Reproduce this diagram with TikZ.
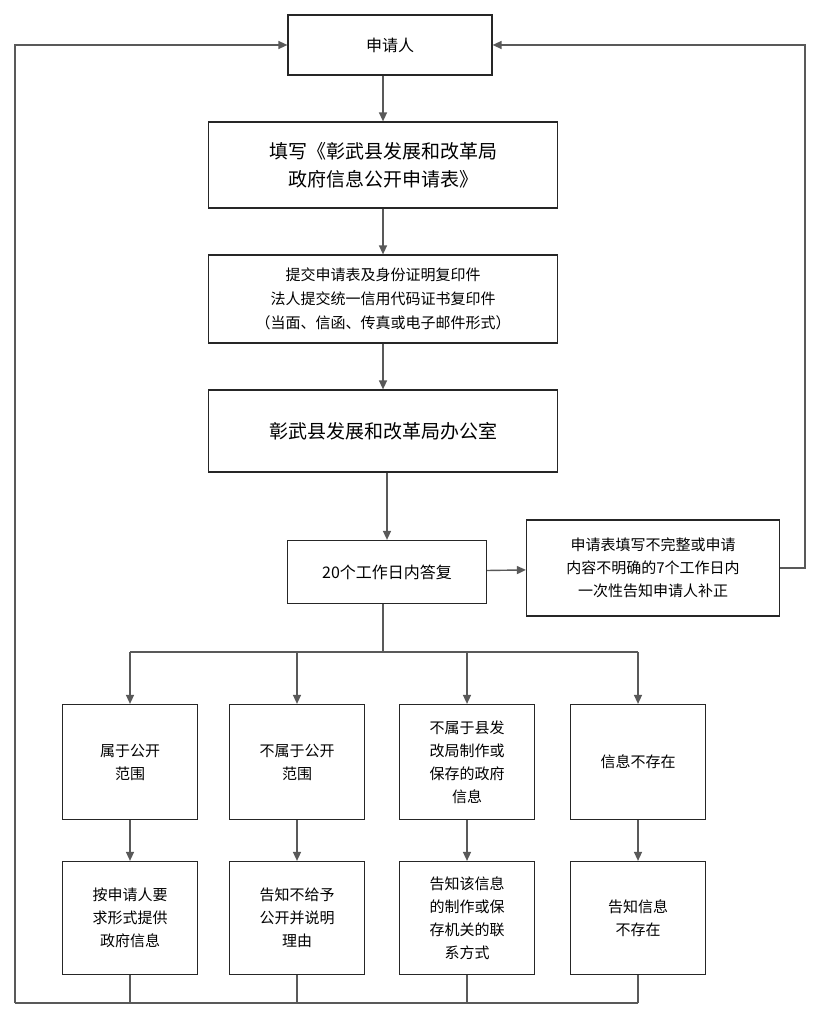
\documentclass[tikz,border=0pt]{standalone}
\usepackage{fontspec}
\setmainfont{Noto Sans CJK SC}
\usetikzlibrary{arrows.meta}
\begin{document}
\begin{tikzpicture}[x=1pt,y=-1pt,
  box/.style={draw=black!85,line width=1.2pt,align=center,font=\fontsize{15}{20}\selectfont,inner sep=2pt},
  conn/.style={draw=black!65,line width=1.4pt},
  arr/.style={conn,-{Triangle[length=9pt,width=8pt]}}]
\useasboundingbox (0,0) rectangle (822,1024);
\node[box,minimum width=204pt,minimum height=60pt,font=\fontsize{16}{20}\selectfont] (a) at (390,45) {申请人};
\node[box,minimum width=349pt,minimum height=86pt,font=\fontsize{19}{28}\selectfont] (b) at (383,165) {填写《彰武县发展和改革局\\政府信息公开申请表》};
\node[box,minimum width=349pt,minimum height=88pt,font=\fontsize{15}{24}\selectfont] (c) at (383,299) {提交申请表及身份证明复印件\\法人提交统一信用代码证书复印件\\（当面、信函、传真或电子邮件形式）};
\node[box,minimum width=349pt,minimum height=82pt,font=\fontsize{19}{24}\selectfont] (d) at (383,431) {彰武县发展和改革局办公室};
\node[box,minimum width=199pt,minimum height=63pt,font=\fontsize{16}{20}\selectfont] (e) at (387,572) {20个工作日内答复};
\node[box,minimum width=253pt,minimum height=96pt,font=\fontsize{15}{23}\selectfont] (f) at (653,568) {申请表填写不完整或申请\\内容不明确的7个工作日内\\一次性告知申请人补正};
\foreach \n/\x in {1/130,2/297,3/467,4/638}{
  \node[box,minimum width=135pt,minimum height=115pt,text width=120pt] (u\n) at (\x,762) {};
  \node[box,minimum width=135pt,minimum height=113pt,text width=120pt] (l\n) at (\x,918) {};
  \draw[arr] (u\n) -- (l\n);
}
\node[align=center,font=\fontsize{15}{23}\selectfont] at (u1) {属于公开\\范围};
\node[align=center,font=\fontsize{15}{23}\selectfont] at (u2) {不属于公开\\范围};
\node[align=center,font=\fontsize{15}{23}\selectfont] at (u3) {不属于县发\\改局制作或\\保存的政府\\信息};
\node[align=center,font=\fontsize{15}{23}\selectfont] at (u4) {信息不存在};
\node[align=center,font=\fontsize{15}{23}\selectfont] at (l1) {按申请人要\\求形式提供\\政府信息};
\node[align=center,font=\fontsize{15}{23}\selectfont] at (l2) {告知不给予\\公开并说明\\理由};
\node[align=center,font=\fontsize{15}{23}\selectfont] at (l3) {告知该信息\\的制作或保\\存机关的联\\系方式};
\node[align=center,font=\fontsize{15}{23}\selectfont] at (l4) {告知信息\\不存在};
\draw[arr] (a.south -| b) -- (b);
\draw[arr] (b) -- (c);
\draw[arr] (c) -- (d);
\draw[arr] (d.south -| e) -- (e);
\draw[arr] (e) -- (f);
\coordinate (r1) at (805,568);
\coordinate (r2) at (805,45);
\draw[arr] (f.east) -- (r1) -- (r2) -- (a.east);
\coordinate (br) at (383,652);
\draw[conn] (e.south -| br) -- (br);
\draw[conn] (130,652) -- (638,652);
\foreach \n/\x in {1/130,2/297,3/467,4/638}{
  \draw[arr] (\x,652) -- (u\n);
  \draw[conn] (l\n) -- (\x,1003);
}
\coordinate (lb) at (15,1003);
\coordinate (lt) at (15,45);
\draw[conn] (638,1003) -- (lb);
\draw[arr] (lb) -- (lt) -- (a.west);
\end{tikzpicture}
\end{document}
